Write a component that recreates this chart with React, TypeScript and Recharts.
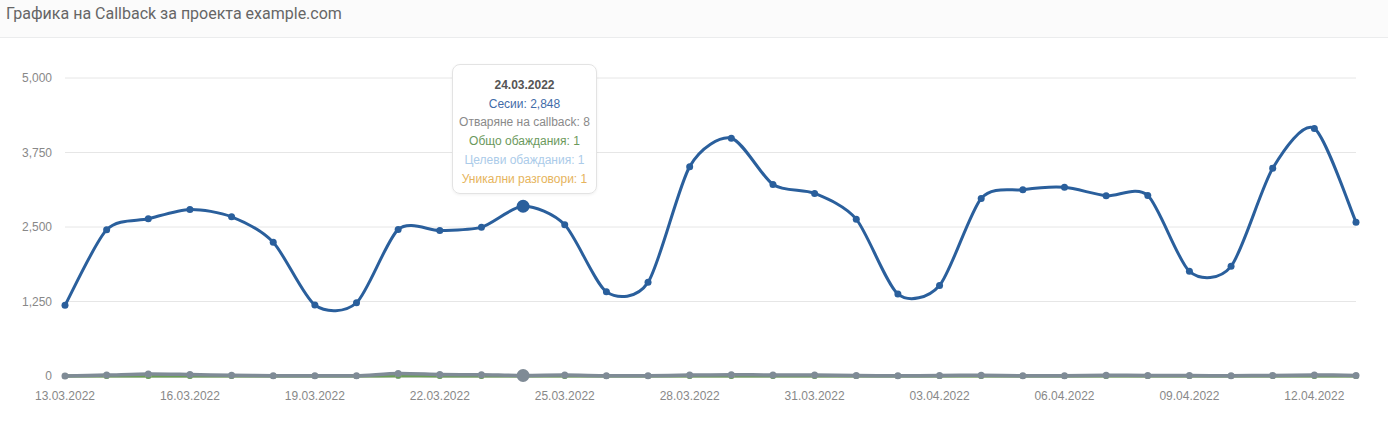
import React from "react";
import { LineChart, Line, XAxis, YAxis, CartesianGrid, Tooltip } from "recharts";

const dates = [
  "13.03.2022", "14.03.2022", "15.03.2022", "16.03.2022", "17.03.2022", "18.03.2022",
  "19.03.2022", "20.03.2022", "21.03.2022", "22.03.2022", "23.03.2022", "24.03.2022",
  "25.03.2022", "26.03.2022", "27.03.2022", "28.03.2022", "29.03.2022", "30.03.2022",
  "31.03.2022", "01.04.2022", "02.04.2022", "03.04.2022", "04.04.2022", "05.04.2022",
  "06.04.2022", "07.04.2022", "08.04.2022", "09.04.2022", "10.04.2022", "11.04.2022",
  "12.04.2022", "13.04.2022",
];
const sessions = [
  1185, 2453, 2638, 2795, 2671, 2244, 1190, 1229, 2458, 2441, 2497, 2848,
  2537, 1414, 1571, 3513, 3990, 3215, 3064, 2632, 1375, 1520, 2980, 3126,
  3165, 3025, 3030, 1756, 1840, 3485, 4153, 2581,
];
const callbackOpens = [
  0, 15, 35, 25, 12, 5, 5, 5, 40, 25, 20, 8,
  15, 5, 5, 15, 20, 18, 15, 8, 5, 8, 12, 5,
  5, 12, 10, 8, 5, 10, 18, 10,
];
const totalCalls = [
  0, 1, 2, 1, 0, 0, 0, 0, 3, 2, 1, 1,
  1, 0, 0, 1, 2, 1, 1, 0, 0, 0, 1, 0,
  0, 1, 1, 0, 0, 1, 1, 1,
];
const targetCalls = [
  0, 1, 1, 1, 0, 0, 0, 0, 2, 1, 1, 1,
  1, 0, 0, 1, 1, 1, 1, 0, 0, 0, 1, 0,
  0, 1, 1, 0, 0, 1, 1, 1,
];
const uniqueTalks = [
  0, 1, 1, 1, 0, 0, 0, 0, 2, 1, 1, 1,
  1, 0, 0, 1, 1, 1, 1, 0, 0, 0, 1, 0,
  0, 1, 1, 0, 0, 1, 1, 1,
];
const yTicks = [0, 1250, 2500, 3750, 5000];

const data = dates.map((d, i) => ({
  date: d,
  sessions: sessions[i],
  callbackOpens: callbackOpens[i],
  totalCalls: totalCalls[i],
  targetCalls: targetCalls[i],
  uniqueTalks: uniqueTalks[i],
}));

const BLUE = "#2a5f9c";
const GRAY = "#7f8b96";
const GREEN = "#6a9e57";
const LIGHTBLUE = "#a9cbea";
const ORANGE = "#e8b04e";

const FONT = '"Liberation Sans", Arial, Helvetica, sans-serif';

// cardinal spline (tension 0.2) curve factory
const cardinalCurve: any = (context: any) => {
  let xs: number[] = [];
  let ys: number[] = [];
  const k = (1 - 0.2) / 6;
  return {
    areaStart() {},
    areaEnd() {},
    lineStart() {
      xs = [];
      ys = [];
    },
    point(x: number, y: number) {
      xs.push(+x);
      ys.push(+y);
    },
    lineEnd() {
      const n = xs.length;
      if (!n) return;
      context.moveTo(xs[0], ys[0]);
      for (let i = 0; i < n - 1; i++) {
        const i0 = Math.max(0, i - 1);
        const i2 = i + 1;
        const i3 = Math.min(n - 1, i + 2);
        const c1x = xs[i] + k * (xs[i2] - xs[i0]);
        const c1y = ys[i] + k * (ys[i2] - ys[i0]);
        const c2x = xs[i2] - k * (xs[i3] - xs[i]);
        const c2y = ys[i2] - k * (ys[i3] - ys[i]);
        context.bezierCurveTo(c1x, c1y, c2x, c2y, xs[i2], ys[i2]);
      }
    },
  };
};

const fmt = (v: number) => v.toLocaleString("en-US");

const rows = [
  { key: "sessions", label: "Сесии", color: "#3f6ca8" },
  { key: "callbackOpens", label: "Отваряне на callback", color: "#8a8a8a" },
  { key: "totalCalls", label: "Общо обаждания", color: "#6b995c" },
  { key: "targetCalls", label: "Целеви обаждания", color: "#abcbe9" },
  { key: "uniqueTalks", label: "Уникални разговори", color: "#e6b45c" },
];

const TooltipBox = (props: any) => {
  const { active, payload, label } = props;
  if (!active || !payload || !payload.length) return null;
  const row = payload[0].payload;
  return (
    <div
      style={{
        width: 145,
        height: 130,
        boxSizing: "border-box",
        background: "rgba(255,255,255,0.96)",
        border: "1px solid #e3e3e3",
        borderRadius: 8,
        boxShadow: "0 1px 3px rgba(0,0,0,0.06)",
        fontFamily: FONT,
        fontSize: 12,
        textAlign: "center",
        paddingTop: 11,
        lineHeight: "18.7px",
      }}
    >
      <div style={{ fontWeight: "bold", color: "#555" }}>{label}</div>
      {rows.map((r) => (
        <div key={r.key} style={{ color: r.color, whiteSpace: "nowrap" }}>
          {r.label}: {fmt(row[r.key])}
        </div>
      ))}
    </div>
  );
};

export default function App() {
  return (
    <div
      style={{
        position: "absolute",
        left: 0,
        top: 0,
        width: 1388,
        height: 426,
        background: "#ffffff",
        overflow: "hidden",
      }}
    >
      <div
        style={{
          position: "absolute",
          left: 0,
          top: 0,
          width: 1388,
          height: 38,
          background: "#fbfbfb",
          borderBottom: "1px solid #ebeced",
          fontFamily: "Roboto, sans-serif",
          fontSize: 16,
          color: "#666",
          boxSizing: "border-box",
          paddingLeft: 6,
          paddingTop: 4,
        }}
      >
        Графика на Callback за проекта example.com
      </div>
      <div style={{ position: "absolute", left: 0, top: 0 }}>
        <LineChart
          width={1388}
          height={426}
          data={data}
          margin={{ top: 78, right: 32, bottom: 20, left: 5 }}
        >
          <CartesianGrid vertical={false} stroke="#e6e6e6" strokeWidth={1} />
          <XAxis
            dataKey="date"
            interval={2}
            axisLine={false}
            tickLine={false}
            height={30}
            tickMargin={9}
            tick={{ fill: "#888", fontSize: 12, fontFamily: FONT }}
          />
          <YAxis
            domain={[0, 5000]}
            ticks={yTicks}
            tickFormatter={fmt}
            width={60}
            axisLine={false}
            tickLine={false}
            tickMargin={7}
            tick={{ fill: "#888", fontSize: 12, fontFamily: FONT }}
          />
          <Tooltip
            active={true}
            defaultIndex={11}
            position={{ x: 452, y: 64 }}
            cursor={false}
            isAnimationActive={false}
            content={<TooltipBox />}
            wrapperStyle={{ outline: "none" }}
          />
          <Line
            dataKey="uniqueTalks"
            type={cardinalCurve}
            stroke={ORANGE}
            strokeWidth={3}
            dot={{ r: 3, fill: ORANGE, stroke: ORANGE, strokeWidth: 0 }}
            activeDot={false}
            isAnimationActive={false}
          />
          <Line
            dataKey="targetCalls"
            type={cardinalCurve}
            stroke={LIGHTBLUE}
            strokeWidth={3}
            dot={{ r: 3, fill: LIGHTBLUE, stroke: LIGHTBLUE, strokeWidth: 0 }}
            activeDot={false}
            isAnimationActive={false}
          />
          <Line
            dataKey="totalCalls"
            type={cardinalCurve}
            stroke={GREEN}
            strokeWidth={3}
            dot={{ r: 3, fill: GREEN, stroke: GREEN, strokeWidth: 0 }}
            activeDot={false}
            isAnimationActive={false}
          />
          <Line
            dataKey="callbackOpens"
            type={cardinalCurve}
            stroke={GRAY}
            strokeWidth={3.5}
            dot={{ r: 3.5, fill: GRAY, stroke: GRAY, strokeWidth: 0 }}
            activeDot={{ r: 6.5, fill: GRAY, stroke: GRAY, strokeWidth: 0 }}
            isAnimationActive={false}
          />
          <Line
            dataKey="sessions"
            type={cardinalCurve}
            stroke={BLUE}
            strokeWidth={3}
            dot={{ r: 3.5, fill: BLUE, stroke: BLUE, strokeWidth: 0 }}
            activeDot={{ r: 6.5, fill: BLUE, stroke: BLUE, strokeWidth: 0 }}
            isAnimationActive={false}
          />
        </LineChart>
      </div>
    </div>
  );
}
